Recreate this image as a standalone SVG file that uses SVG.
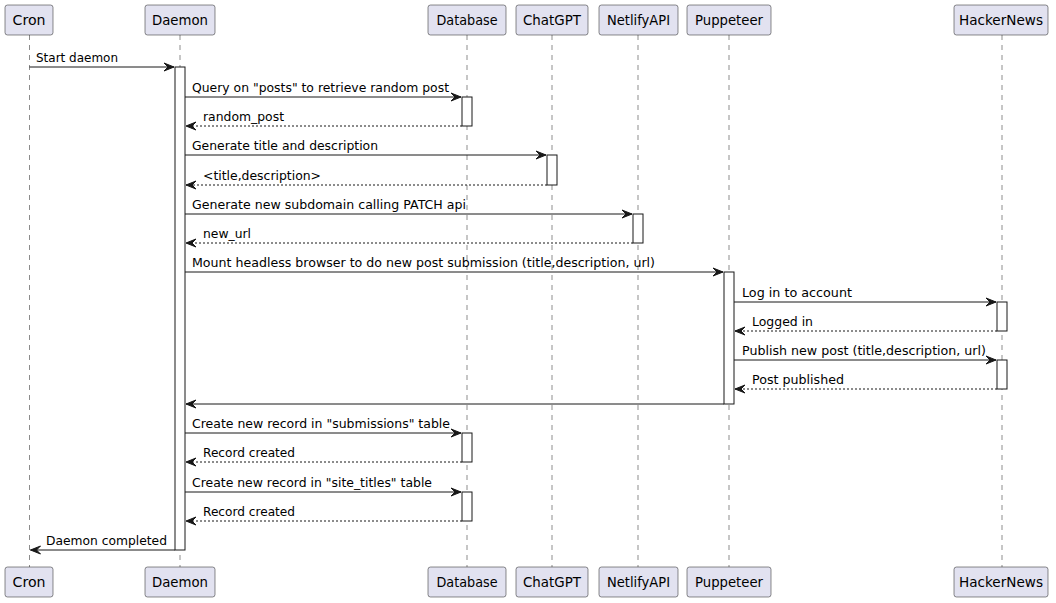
<svg xmlns="http://www.w3.org/2000/svg" width="1056" height="603" viewBox="0 0 1056 603">
<style>
.box{fill:#E2E2F0;stroke:#181818;stroke-width:0.5}
.pt{font-family:"DejaVu Sans","Liberation Sans",Arial,sans-serif;font-size:13.5px;fill:#000;text-anchor:middle}
.life{stroke:#181818;stroke-width:0.5;stroke-dasharray:5,5;fill:none}
.act{fill:#FFFFFF;stroke:#181818;stroke-width:1}
.msg{stroke:#181818;stroke-width:1;fill:none}
.ret{stroke:#181818;stroke-width:1;stroke-dasharray:2,2;fill:none}
.lbl{font-family:"DejaVu Sans","Liberation Sans",Arial,sans-serif;font-size:12.5px;fill:#000}
</style>
<defs>
<marker id="ah" markerWidth="12" markerHeight="10" viewBox="0 0 12 10" refX="11" refY="5" orient="auto" markerUnits="userSpaceOnUse">
<polygon points="1,1 11,5 1,9 5,5" fill="#181818" stroke="#181818" stroke-width="1"/>
</marker>
</defs>
<rect width="1056" height="603" fill="#FFFFFF"/>
<g id="lifelines">
<line class="life" x1="29.5" y1="35" x2="29.5" y2="567"/>
<line class="life" x1="180" y1="35" x2="180" y2="567"/>
<line class="life" x1="467" y1="35" x2="467" y2="567"/>
<line class="life" x1="552" y1="35" x2="552" y2="567"/>
<line class="life" x1="638" y1="35" x2="638" y2="567"/>
<line class="life" x1="729" y1="35" x2="729" y2="567"/>
<line class="life" x1="1002" y1="35" x2="1002" y2="567"/>
</g>
<g id="cron">
<rect class="box" x="5" y="5" width="48" height="30" rx="2.5"/>
<text class="pt" x="29" y="25" textLength="33" lengthAdjust="spacingAndGlyphs">Cron</text>
<rect class="box" x="5" y="567" width="48" height="30" rx="2.5"/>
<text class="pt" x="29" y="587" textLength="33" lengthAdjust="spacingAndGlyphs">Cron</text>
</g>
<g id="daemon">
<rect class="box" x="145" y="5" width="70" height="30" rx="2.5"/>
<text class="pt" x="180" y="25" textLength="56" lengthAdjust="spacingAndGlyphs">Daemon</text>
<rect class="box" x="145" y="567" width="70" height="30" rx="2.5"/>
<text class="pt" x="180" y="587" textLength="56" lengthAdjust="spacingAndGlyphs">Daemon</text>
</g>
<g id="database">
<rect class="box" x="428" y="5" width="78" height="30" rx="2.5"/>
<text class="pt" x="467" y="25" textLength="61" lengthAdjust="spacingAndGlyphs">Database</text>
<rect class="box" x="428" y="567" width="78" height="30" rx="2.5"/>
<text class="pt" x="467" y="587" textLength="61" lengthAdjust="spacingAndGlyphs">Database</text>
</g>
<g id="chatgpt">
<rect class="box" x="516" y="5" width="72" height="30" rx="2.5"/>
<text class="pt" x="552" y="25" textLength="58" lengthAdjust="spacingAndGlyphs">ChatGPT</text>
<rect class="box" x="516" y="567" width="72" height="30" rx="2.5"/>
<text class="pt" x="552" y="587" textLength="58" lengthAdjust="spacingAndGlyphs">ChatGPT</text>
</g>
<g id="netlifyapi">
<rect class="box" x="599" y="5" width="79" height="30" rx="2.5"/>
<text class="pt" x="638.5" y="25" textLength="63" lengthAdjust="spacingAndGlyphs">NetlifyAPI</text>
<rect class="box" x="599" y="567" width="79" height="30" rx="2.5"/>
<text class="pt" x="638.5" y="587" textLength="63" lengthAdjust="spacingAndGlyphs">NetlifyAPI</text>
</g>
<g id="puppeteer">
<rect class="box" x="687" y="5" width="84" height="30" rx="2.5"/>
<text class="pt" x="729" y="25" textLength="68" lengthAdjust="spacingAndGlyphs">Puppeteer</text>
<rect class="box" x="687" y="567" width="84" height="30" rx="2.5"/>
<text class="pt" x="729" y="587" textLength="68" lengthAdjust="spacingAndGlyphs">Puppeteer</text>
</g>
<g id="hackernews">
<rect class="box" x="954" y="5" width="94" height="30" rx="2.5"/>
<text class="pt" x="1001" y="25" textLength="84" lengthAdjust="spacingAndGlyphs">HackerNews</text>
<rect class="box" x="954" y="567" width="94" height="30" rx="2.5"/>
<text class="pt" x="1001" y="587" textLength="84" lengthAdjust="spacingAndGlyphs">HackerNews</text>
</g>
<g id="activations">
<rect class="act" x="175" y="67" width="10" height="483"/>
<rect class="act" x="462" y="97" width="10" height="29"/>
<rect class="act" x="547" y="155" width="10" height="30"/>
<rect class="act" x="633" y="214" width="10" height="29"/>
<rect class="act" x="724" y="272" width="10" height="132"/>
<rect class="act" x="997" y="302" width="10" height="29"/>
<rect class="act" x="997" y="360" width="10" height="29"/>
<rect class="act" x="462" y="433" width="10" height="29"/>
<rect class="act" x="462" y="492" width="10" height="29"/>
</g>
<g id="connectors">
<line class="msg" x1="29.5" y1="67" x2="174" y2="67" marker-end="url(#ah)"/>
<text class="lbl" x="36" y="62" textLength="82" lengthAdjust="spacingAndGlyphs">Start daemon</text>
<line class="msg" x1="185" y1="97" x2="461" y2="97" marker-end="url(#ah)"/>
<text class="lbl" x="192" y="92" textLength="257" lengthAdjust="spacingAndGlyphs">Query on "posts" to retrieve random post</text>
<line class="ret" x1="462" y1="126" x2="186" y2="126" marker-end="url(#ah)"/>
<text class="lbl" x="203" y="121" textLength="81" lengthAdjust="spacingAndGlyphs">random_post</text>
<line class="msg" x1="185" y1="155" x2="546" y2="155" marker-end="url(#ah)"/>
<text class="lbl" x="192" y="150" textLength="186" lengthAdjust="spacingAndGlyphs">Generate title and description</text>
<line class="ret" x1="547" y1="185" x2="186" y2="185" marker-end="url(#ah)"/>
<text class="lbl" x="203" y="180" textLength="118" lengthAdjust="spacingAndGlyphs">&lt;title,description&gt;</text>
<line class="msg" x1="185" y1="214" x2="632" y2="214" marker-end="url(#ah)"/>
<text class="lbl" x="192" y="209" textLength="274" lengthAdjust="spacingAndGlyphs">Generate new subdomain calling PATCH api</text>
<line class="ret" x1="633" y1="243" x2="186" y2="243" marker-end="url(#ah)"/>
<text class="lbl" x="203" y="238" textLength="48" lengthAdjust="spacingAndGlyphs">new_url</text>
<line class="msg" x1="185" y1="272" x2="723" y2="272" marker-end="url(#ah)"/>
<text class="lbl" x="192" y="267" textLength="463" lengthAdjust="spacingAndGlyphs">Mount headless browser to do new post submission (title,description, url)</text>
<line class="msg" x1="734" y1="302" x2="996" y2="302" marker-end="url(#ah)"/>
<text class="lbl" x="742" y="297" textLength="110" lengthAdjust="spacingAndGlyphs">Log in to account</text>
<line class="ret" x1="997" y1="331" x2="735" y2="331" marker-end="url(#ah)"/>
<text class="lbl" x="752" y="326" textLength="61" lengthAdjust="spacingAndGlyphs">Logged in</text>
<line class="msg" x1="734" y1="360" x2="996" y2="360" marker-end="url(#ah)"/>
<text class="lbl" x="742" y="355" textLength="244" lengthAdjust="spacingAndGlyphs">Publish new post (title,description, url)</text>
<line class="ret" x1="997" y1="389" x2="735" y2="389" marker-end="url(#ah)"/>
<text class="lbl" x="752" y="384" textLength="92" lengthAdjust="spacingAndGlyphs">Post published</text>
<line class="msg" x1="724" y1="404" x2="186" y2="404" marker-end="url(#ah)"/>
<line class="msg" x1="185" y1="433" x2="461" y2="433" marker-end="url(#ah)"/>
<text class="lbl" x="192" y="428" textLength="258" lengthAdjust="spacingAndGlyphs">Create new record in "submissions" table</text>
<line class="ret" x1="462" y1="462" x2="186" y2="462" marker-end="url(#ah)"/>
<text class="lbl" x="203" y="457" textLength="92" lengthAdjust="spacingAndGlyphs">Record created</text>
<line class="msg" x1="185" y1="492" x2="461" y2="492" marker-end="url(#ah)"/>
<text class="lbl" x="192" y="487" textLength="240" lengthAdjust="spacingAndGlyphs">Create new record in "site_titles" table</text>
<line class="ret" x1="462" y1="521" x2="186" y2="521" marker-end="url(#ah)"/>
<text class="lbl" x="203" y="516" textLength="92" lengthAdjust="spacingAndGlyphs">Record created</text>
<line class="msg" x1="175" y1="550" x2="30.5" y2="550" marker-end="url(#ah)"/>
<text class="lbl" x="46" y="545" textLength="121" lengthAdjust="spacingAndGlyphs">Daemon completed</text>
</g>
</svg>
